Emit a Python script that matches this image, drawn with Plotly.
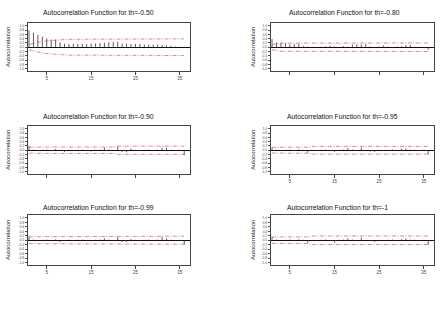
import plotly.graph_objects as go

W, H = 443, 317

lags = list(range(1, 37))

titles = ["Autocorrelation Function for th=-0.50", "Autocorrelation Function for th=-0.80",
          "Autocorrelation Function for th=-0.90", "Autocorrelation Function for th=-0.95",
          "Autocorrelation Function for th=-0.99", "Autocorrelation Function for th=-1"]

acf_050 = [0.78, 0.67, 0.57, 0.49, 0.41, 0.36, 0.36, 0.23, 0.17, 0.15, 0.16, 0.15, 0.16, 0.15, 0.17, 0.18,
           0.20, 0.21, 0.23, 0.24, 0.25, 0.16, 0.17, 0.15, 0.16, 0.15, 0.12, 0.12, 0.12, 0.12, 0.11, 0.09,
           0.06, 0.03, 0.02, 0.01]
band_050 = [0.12, 0.18, 0.22, 0.27, 0.30, 0.32, 0.34, 0.35, 0.36, 0.37, 0.37, 0.37, 0.37, 0.37, 0.37, 0.37,
            0.38, 0.38, 0.38, 0.38, 0.38, 0.38, 0.38, 0.38, 0.39, 0.39, 0.39, 0.39, 0.39, 0.39, 0.39, 0.39,
            0.39, 0.39, 0.39, 0.39]

acf_080 = [0.38, 0.22, 0.20, 0.19, 0.14, 0.14, 0.16, 0.06, 0.03, 0.02, -0.03, 0.02, 0.04, 0.07, 0.03, -0.02,
           0.05, 0.03, 0.13, 0.14, 0.12, 0.15, 0.03, -0.03, 0.02, 0.08, 0.03, -0.02, 0.03, 0.05, 0.10, 0.11,
           0.03, 0.02, -0.02, -0.12]
band_080 = [0.12, 0.17, 0.19, 0.19, 0.19, 0.19, 0.19, 0.19, 0.20, 0.20, 0.20, 0.20, 0.20, 0.20, 0.20, 0.20,
            0.20, 0.20, 0.20, 0.20, 0.20, 0.20, 0.20, 0.20, 0.20, 0.20, 0.20, 0.20, 0.20, 0.20, 0.20, 0.20,
            0.20, 0.20, 0.20, 0.20]

acf_090 = [0.20, 0.03, -0.02, 0.02, 0.03, -0.02, 0.06, 0.02, -0.08, 0.02, -0.03, 0.02, 0.03, -0.02, -0.06, 0.02,
           0.03, 0.12, 0.03, -0.02, 0.17, -0.08, -0.10, 0.08, 0.02, -0.03, 0.02, 0.03, -0.02, 0.03, 0.12, 0.11,
           0.02, -0.03, 0.02, -0.23]
band_090 = [0.14, 0.15, 0.15, 0.15, 0.15, 0.15, 0.15, 0.15, 0.15, 0.15, 0.15, 0.15, 0.15, 0.15, 0.15, 0.15,
            0.15, 0.15, 0.15, 0.15, 0.19, 0.19, 0.19, 0.19, 0.19, 0.19, 0.19, 0.19, 0.19, 0.19, 0.19, 0.19,
            0.19, 0.19, 0.19, 0.19]

acf_095 = [0.12, 0.03, -0.02, 0.02, 0.03, -0.02, 0.04, 0.02, -0.12, 0.02, -0.03, 0.02, 0.03, -0.02, -0.08, 0.02,
           0.03, 0.11, 0.03, -0.02, 0.12, -0.04, -0.06, -0.08, 0.02, -0.03, 0.02, 0.03, -0.02, 0.08, 0.08, 0.03,
           0.02, -0.03, 0.02, -0.20]
band_095 = [0.13, 0.14, 0.14, 0.14, 0.14, 0.14, 0.14, 0.14, 0.14, 0.18, 0.18, 0.18, 0.18, 0.18, 0.18, 0.18,
            0.18, 0.18, 0.18, 0.18, 0.18, 0.18, 0.18, 0.18, 0.18, 0.18, 0.18, 0.18, 0.18, 0.18, 0.18, 0.18,
            0.18, 0.18, 0.18, 0.18]

acf_099 = [0.17, 0.03, -0.02, 0.02, 0.03, -0.02, 0.04, -0.08, -0.03, 0.02, -0.03, 0.02, 0.03, -0.02, -0.05, 0.02,
           0.03, 0.08, 0.03, -0.02, 0.14, -0.08, -0.08, 0.05, 0.02, -0.03, 0.02, 0.03, -0.02, 0.03, 0.15, 0.08,
           0.02, -0.03, 0.02, -0.20]
band_099 = [0.15, 0.16, 0.16, 0.16, 0.16, 0.16, 0.16, 0.16, 0.16, 0.16, 0.16, 0.16, 0.16, 0.16, 0.16, 0.16,
            0.16, 0.16, 0.16, 0.16, 0.18, 0.18, 0.18, 0.18, 0.18, 0.18, 0.18, 0.18, 0.18, 0.18, 0.18, 0.18,
            0.18, 0.18, 0.18, 0.18]

acf_100 = [0.15, 0.03, -0.02, 0.02, 0.03, -0.02, 0.04, 0.02, -0.11, 0.02, -0.03, 0.02, 0.03, -0.02, -0.11, 0.02,
           0.03, 0.08, 0.03, -0.02, 0.12, -0.04, -0.03, -0.08, 0.02, -0.03, 0.02, 0.03, -0.02, 0.05, 0.08, 0.03,
           0.02, -0.03, 0.02, -0.20]
band_100 = [0.14, 0.15, 0.15, 0.15, 0.15, 0.15, 0.15, 0.15, 0.15, 0.19, 0.19, 0.19, 0.19, 0.19, 0.19, 0.19,
            0.19, 0.19, 0.19, 0.19, 0.19, 0.19, 0.19, 0.19, 0.19, 0.19, 0.19, 0.19, 0.19, 0.19, 0.19, 0.19,
            0.19, 0.19, 0.19, 0.19]

x_ticks = [5, 15, 25, 35]
y_ticks = [-1.0, -0.8, -0.6, -0.4, -0.2, 0.0, 0.2, 0.4, 0.6, 0.8, 1.0]

series = [acf_050, acf_080, acf_090, acf_095, acf_099, acf_100]
bands = [band_050, band_080, band_090, band_095, band_099, band_100]

# layout geometry in pixels
cols = [(28, 190), (271, 434)]
rows = [(23, 71), (126, 174), (215, 265)]
title_pos = [(98, 12.5), (344, 13), (98, 117), (342, 117), (98, 207), (337, 207)]
ytitle_x = [8, 253]
show_xlabels = [True, False, False, True, True, True]

FONT = "Liberation Sans, Arial, sans-serif"
BAND = dict(color="rgba(222,60,85,0.7)", width=0.9, dash="4px,1.5px,1px,1.5px")
fig = go.Figure()
annotations = []

for i in range(6):
    r, c = divmod(i, 2)
    n = "" if i == 0 else str(i + 1)
    acf = series[i]
    band = bands[i]
    bx, by = [], []
    for k, v in zip(lags, acf):
        bx += [k, k, None]
        by += [0, v, None]
    fig.add_trace(go.Scatter(x=bx, y=by, mode="lines", line=dict(color="#333", width=0.8),
                             xaxis="x" + n, yaxis="y" + n, showlegend=False, hoverinfo="skip"))
    fig.add_trace(go.Scatter(x=lags, y=band, mode="lines", line=BAND,
                             xaxis="x" + n, yaxis="y" + n, showlegend=False, hoverinfo="skip"))
    fig.add_trace(go.Scatter(x=lags, y=[-b for b in band], mode="lines", line=BAND,
                             xaxis="x" + n, yaxis="y" + n, showlegend=False, hoverinfo="skip"))
    x0, x1 = cols[c]
    y0, y1 = rows[r]
    fig.layout["xaxis" + n] = dict(
        domain=[x0 / W, x1 / W], anchor="y" + n, range=[0.77, 37.3],
        tickmode="array", tickvals=x_ticks, ticktext=[str(t) for t in x_ticks],
        showticklabels=show_xlabels[i], ticks="outside", ticklen=3, tickwidth=0.8, tickcolor="#444",
        showline=True, mirror=True, linecolor="#444", linewidth=1,
        showgrid=False, zeroline=False, tickfont=dict(size=4.5, color="#444", family=FONT))
    fig.layout["yaxis" + n] = dict(
        domain=[1 - y1 / H, 1 - y0 / H], anchor="x" + n, range=[-1.11, 1.13],
        tickmode="array", tickvals=y_ticks, ticktext=["%.1f" % t for t in y_ticks],
        ticks="outside", ticklen=2, tickwidth=0.6, tickcolor="#555",
        showline=True, mirror=True, linecolor="#444", linewidth=1,
        showgrid=False, zeroline=True, zerolinecolor="#111", zerolinewidth=1,
        tickfont=dict(size=3.5, color="#555", family=FONT))
    tx, ty = title_pos[i]
    annotations.append(dict(text=titles[i], x=tx / W, y=1 - ty / H, xref="paper", yref="paper",
                            showarrow=False, xanchor="center", yanchor="middle",
                            font=dict(size=6.8, color="#111", family=FONT)))
    annotations.append(dict(text="Autocorrelation", x=ytitle_x[c] / W, y=1 - ((y0 + y1) / 2) / H,
                            xref="paper", yref="paper", showarrow=False, textangle=-90,
                            xanchor="center", yanchor="middle",
                            font=dict(size=6, color="#222", family=FONT)))

fig.update_layout(width=W, height=H, margin=dict(l=0, r=0, t=0, b=0),
                  paper_bgcolor="white", plot_bgcolor="white", annotations=annotations)

fig.write_html("out.html")
